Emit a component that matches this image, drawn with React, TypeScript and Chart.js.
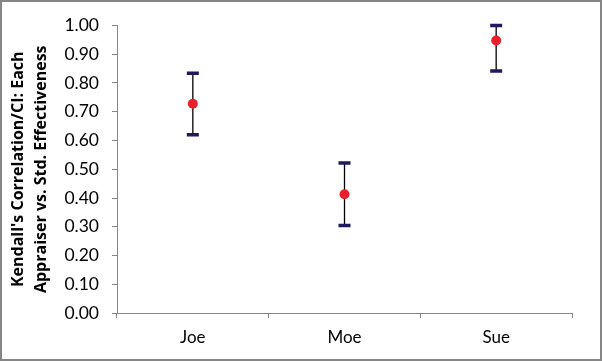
import React, { useEffect, useRef } from "react";
import { Chart, registerables } from "chart.js";

Chart.register(...registerables);

const categories = ["Joe", "Moe", "Sue"];
const estimates = [0.728, 0.413, 0.948];
const lowerCI = [0.62, 0.304, 0.842];
const upperCI = [0.834, 0.522, 1.0];
const yTitleLines = ["Kendall's Correlation/CI: Each", "Appraiser vs. Std. Effectiveness"];

const FONT = "Lato, 'Open Sans', sans-serif";
const TITLE_FONT = "'Open Sans', sans-serif";
const AXIS_GRAY = "#868686";

const errorBarPlugin = {
  id: "errorBars",
  beforeDatasetsDraw(chart: any) {
    const { ctx, scales } = chart;
    const xs = scales.x;
    const ys = scales.y;
    ctx.save();
    categories.forEach((_, i) => {
      const x = xs.getPixelForValue(i);
      const yLo = ys.getPixelForValue(lowerCI[i]);
      const yHi = ys.getPixelForValue(upperCI[i]);
      ctx.strokeStyle = "#000000";
      ctx.lineWidth = 1.3;
      ctx.beginPath();
      ctx.moveTo(x, yLo);
      ctx.lineTo(x, yHi);
      ctx.stroke();
      ctx.strokeStyle = "#1F1A5E";
      ctx.lineWidth = 3.5;
      ctx.beginPath();
      ctx.moveTo(x - 6, yLo);
      ctx.lineTo(x + 6, yLo);
      ctx.moveTo(x - 6, yHi);
      ctx.lineTo(x + 6, yHi);
      ctx.stroke();
    });
    ctx.restore();
  },
};

export default function App() {
  const ref = useRef<HTMLCanvasElement | null>(null);
  useEffect(() => {
    if (!ref.current) return;
    const chart = new Chart(ref.current, {
      type: "line",
      data: {
        labels: categories,
        datasets: [
          {
            data: estimates,
            showLine: false,
            pointRadius: 5,
            pointHoverRadius: 5,
            pointBackgroundColor: "#E8202C",
            pointBorderColor: "#E8202C",
            pointBorderWidth: 0,
          },
        ],
      },
      options: {
        responsive: false,
        animation: false,
        events: [],
        layout: { padding: { top: 22, right: 28, left: 0, bottom: 0 } },
        plugins: { legend: { display: false }, tooltip: { enabled: false } },
        scales: {
          x: {
            type: "category",
            offset: true,
            grid: {
              offset: true,
              drawOnChartArea: false,
              drawTicks: true,
              tickLength: 5,
              color: AXIS_GRAY,
              lineWidth: 1,
            },
            border: { color: AXIS_GRAY, width: 1 },
            ticks: { color: "#000", font: { family: FONT, size: 17 }, padding: 9 },
            afterFit: (s: any) => {
              s.height = 46;
            },
          },
          y: {
            min: 0,
            max: 1,
            grid: {
              drawOnChartArea: false,
              drawTicks: true,
              tickLength: 5,
              color: AXIS_GRAY,
              lineWidth: 1,
            },
            border: { color: AXIS_GRAY, width: 1 },
            ticks: {
              stepSize: 0.1,
              color: "#000",
              font: { family: FONT, size: 17.5 },
              padding: 13,
              callback: (v: any) => Number(v).toFixed(2),
            },
            title: {
              display: true,
              text: yTitleLines,
              color: "#000",
              font: { family: TITLE_FONT, size: 16, weight: "bold", lineHeight: 1.45 },
              padding: { top: 5, bottom: 0 },
            },
            afterFit: (s: any) => {
              s.width = 115;
            },
          },
        },
      },
      plugins: [errorBarPlugin],
    });
    return () => chart.destroy();
  }, []);

  return (
    <div
      style={{
        position: "absolute",
        left: 0,
        top: 0,
        width: 602,
        height: 361,
        boxSizing: "border-box",
        border: `2px solid ${AXIS_GRAY}`,
        background: "#fff",
      }}
    >
      <canvas ref={ref} width={598} height={357} style={{ display: "block" }} />
    </div>
  );
}
